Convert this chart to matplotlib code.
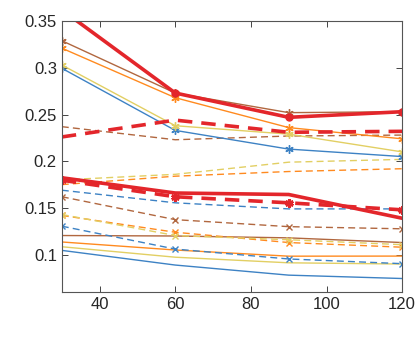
import numpy as np
import matplotlib.pyplot as plt

plt.rcParams['font.family'] = ['Liberation Sans', 'DejaVu Sans']

x = [30, 60, 90, 120]

# colours
blue = '#3d82c4'
orange = '#ff8a1f'
yellow = '#e2cf63'
brown = '#b1673f'
red = '#e3262b'

# upper solid lines (asterisk markers)
up_brown = [0.329, 0.273, 0.252, 0.253]
up_orange = [0.321, 0.268, 0.236, 0.224]
up_yellow = [0.303, 0.238, 0.229, 0.210]
up_blue = [0.2995, 0.233, 0.213, 0.205]
up_red = [0.362, 0.273, 0.247, 0.253]

# upper dashed lines (no markers)
ud_red = [0.226, 0.244, 0.231, 0.232]
ud_brown = [0.237, 0.223, 0.227, 0.228]
ud_yellow = [0.180, 0.186, 0.199, 0.202]
ud_orange = [0.175, 0.184, 0.189, 0.192]
ud_blue = [0.169, 0.1555, 0.149, 0.149]

# lower red lines
lo_red = [0.1823, 0.166, 0.1644, 0.139]
ld_red = [0.1797, 0.162, 0.1555, 0.148]

# lower dashed lines (x markers)
ld_brown = [0.162, 0.1375, 0.130, 0.1277]
ld_yellow = [0.143, 0.1205, 0.116, 0.1107]
ld_orange = [0.142, 0.124, 0.113, 0.108]
ld_blue = [0.1305, 0.106, 0.0954, 0.0904]

# lower solid lines (no markers)
ls_brown = [0.1205, 0.120, 0.118, 0.113]
ls_orange = [0.1136, 0.105, 0.0984, 0.0985]
ls_yellow = [0.1085, 0.0973, 0.0913, 0.090]
ls_blue = [0.1046, 0.0889, 0.0781, 0.0745]

fig = plt.figure(figsize=(4.15, 3.4), dpi=100)
ax = fig.add_axes([0.149, 0.141, 0.820, 0.797])

ast = (6, 2, 0)
lw = 1.0

for ys, c in [(ls_blue, blue), (ls_yellow, yellow), (ls_orange, orange), (ls_brown, brown)]:
    ax.plot(x, ys, color=c, lw=lw)
for ys, c in [(ld_blue, blue), (ld_orange, orange), (ld_yellow, yellow), (ld_brown, brown)]:
    ax.plot(x, ys, color=c, lw=lw, ls=(0, (5, 3)), marker='x', ms=5)
for ys, c in [(ud_blue, blue), (ud_orange, orange), (ud_yellow, yellow), (ud_brown, brown)]:
    ax.plot(x, ys, color=c, lw=lw, ls=(0, (5, 3)))
for ys, c in [(up_blue, blue), (up_yellow, yellow), (up_orange, orange), (up_brown, brown)]:
    ax.plot(x, ys, color=c, lw=lw, marker=ast, ms=6)

ax.plot(x, ud_red, color=red, lw=2.6, ls=(0, (4, 2.5)))
ax.plot(x, up_red, color=red, lw=2.6, marker='o', ms=5)
ax.plot(x, lo_red, color=red, lw=2.6)
ax.plot(x, ld_red, color=red, lw=2.6, ls=(0, (4, 2.5)), marker=ast, ms=6, mew=2)

ax.set_xlim(30, 120)
ax.set_ylim(0.06, 0.35)
ax.set_xticks([40, 60, 80, 100, 120])
ax.set_yticks([0.1, 0.15, 0.2, 0.25, 0.3, 0.35])
ax.set_yticklabels(['0.1', '0.15', '0.2', '0.25', '0.3', '0.35'])
ax.tick_params(direction='in', top=True, right=True, labelsize=12, colors='#262626', length=4, width=0.6)
for s in ax.spines.values():
    s.set_color('#555555')
    s.set_linewidth(0.8)

fig.savefig('out.png', dpi=100)
